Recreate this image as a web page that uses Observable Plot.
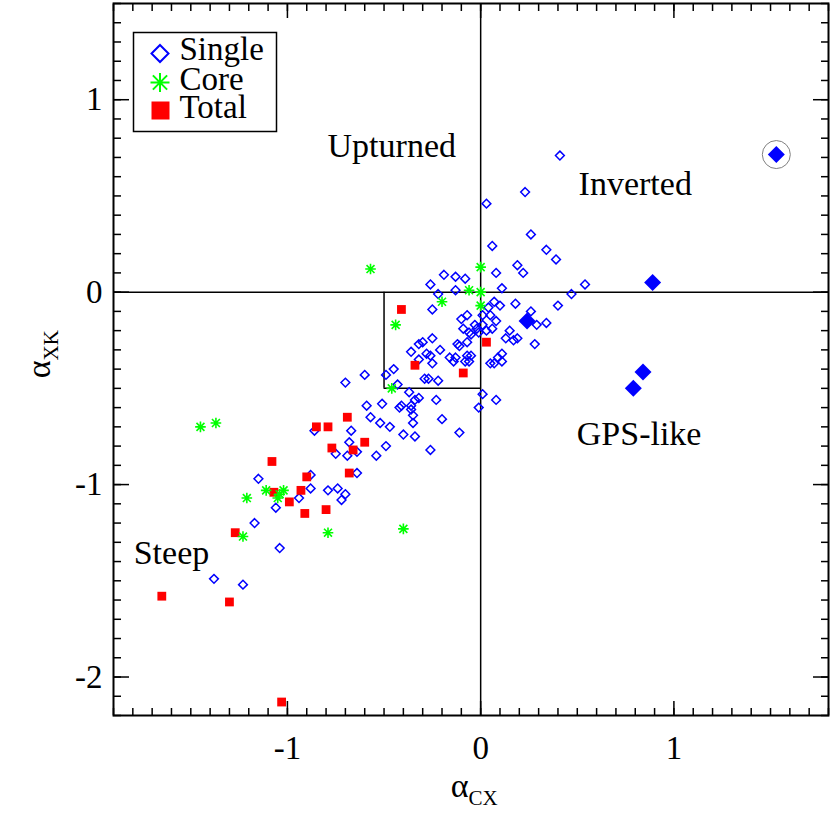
<!DOCTYPE html>
<html><head><meta charset="utf-8">
<script src="https://cdn.jsdelivr.net/npm/d3@7"></script>
<script src="https://cdn.jsdelivr.net/npm/@observablehq/plot@0.6"></script>
<style>body{margin:0;background:#fff}#chart{width:830px;height:830px}
#chart svg, #chart svg text{font-family:'Liberation Serif','Times New Roman',serif !important}</style>
</head><body><div id="chart"></div>
<script>
// ---- data (alpha_CX, alpha_XK) ----
const single = [[0.41,0.71],[0.23,0.52],[0.03,0.46],[0.26,0.30],[0.06,0.24],[0.34,0.22],[0.39,0.17],[0.19,0.14],[0.22,0.10],[0.08,0.10],[-0.19,0.09],[-0.13,0.08],[-0.08,0.07],[-0.26,0.04],[-0.13,0.01],[-0.22,-0.01],[0.11,0.02],[0.54,0.04],[0.47,-0.01],[0.40,-0.07],[0.18,-0.06],[0.07,-0.05],[0.10,-0.07],[0.04,-0.08],[-0.25,-0.09],[-0.07,-0.12],[-0.10,-0.14],[0.01,-0.12],[0.05,-0.12],[0.26,-0.10],[0.34,-0.16],[0.29,-0.17],[0.08,-0.15],[0.03,-0.20],[0.15,-0.20],[0.13,-0.24],[0.17,-0.25],[0.19,-0.24],[0.28,-0.27],[0.11,-0.32],[0.09,-0.34],[0.05,-0.37],[0.07,-0.37],[0.11,-0.36],[0.01,-0.53],[0.08,-0.56],[-0.01,-0.60],[-0.03,-0.17],[-0.02,-0.19],[0.01,-0.17],[-0.09,-0.19],[-0.06,-0.21],[-0.25,-0.24],[-0.30,-0.26],[-0.32,-0.27],[-0.36,-0.31],[-0.21,-0.30],[-0.28,-0.32],[-0.26,-0.33],[-0.25,-0.37],[-0.32,-0.35],[-0.11,-0.28],[-0.07,-0.26],[-0.16,-0.34],[-0.14,-0.36],[-0.13,-0.34],[-0.07,-0.33],[-0.05,-0.33],[-0.08,-0.36],[-0.06,-0.36],[-0.60,-0.43],[-0.49,-0.43],[-0.45,-0.40],[-0.29,-0.45],[-0.27,-0.45],[-0.22,-0.46],[-0.43,-0.48],[-0.37,-0.52],[-0.23,-0.56],[-0.59,-0.59],[-0.51,-0.58],[-0.42,-0.60],[-0.41,-0.59],[-0.36,-0.59],[-0.34,-0.56],[-0.32,-0.55],[-0.36,-0.61],[-0.57,-0.65],[-0.52,-0.68],[-0.47,-0.70],[-0.35,-0.64],[-0.35,-0.68],[-0.20,-0.66],[-0.40,-0.74],[-0.34,-0.75],[-0.11,-0.73],[-0.49,-0.80],[-0.26,-0.82],[-0.70,-0.47],[-0.67,-0.72],[-0.86,-0.72],[-0.68,-0.78],[-0.75,-0.84],[-0.69,-0.85],[-0.64,-0.83],[-0.54,-0.85],[-1.15,-0.97],[-0.88,-0.95],[-0.64,-0.94],[-0.88,-1.02],[-0.94,-1.07],[-0.79,-1.03],[-0.74,-1.02],[-0.70,-1.05],[-0.72,-1.08],[-1.06,-1.12],[-1.17,-1.20],[-1.04,-1.33],[-1.38,-1.49],[-1.23,-1.52],[-0.05,-0.22],[-0.12,-0.27],[-0.01,-0.21],[0.06,-0.19]];
const singleBig = [[1.53,0.715],[0.89,0.05],[0.24,-0.15],[0.84,-0.415],[0.79,-0.50]];
const circled = [[1.53,0.715]];
const core = [[-0.57,0.12],[0.00,0.13],[-0.06,0.01],[0.00,0.00],[-0.20,-0.05],[0.00,-0.07],[-0.44,-0.17],[-0.46,-0.50],[-1.45,-0.70],[-1.37,-0.68],[-1.21,-1.07],[-1.11,-1.03],[-1.02,-1.03],[-1.05,-1.07],[-1.04,-1.05],[-1.23,-1.27],[-0.79,-1.25],[-0.40,-1.23]];
const total = [[-0.41,-0.09],[-0.34,-0.38],[-0.09,-0.42],[0.03,-0.26],[-0.69,-0.65],[-0.85,-0.70],[-0.79,-0.70],[-0.60,-0.78],[-0.77,-0.81],[-0.66,-0.82],[-1.08,-0.88],[-0.68,-0.94],[-0.90,-0.96],[-0.93,-1.03],[-1.07,-1.04],[-0.99,-1.09],[-0.91,-1.15],[-0.80,-1.13],[-1.27,-1.25],[-1.65,-1.58],[-1.30,-1.61],[-1.03,-2.13]];
const regionNames = ["Upturned","Inverted","GPS-like","Steep"];
const regionX = [-0.46, 0.80, 0.82, -1.60];
const regionY = [0.76, 0.56, -0.74, -1.355];
const legendNames = ["Single","Core","Total"];
const xMajor = [-1,0,1];
const yMajor = [-2,-1,0,1];
const xMinor = d3.range(-19,19).map(i=>i/10);
const yMinor = d3.range(-22,16).map(i=>i/10);
const zeroLines = [0];
const boxEdge = [-0.5];   // the small box spans [-0.5,0] x [-0.5,0]

// ---- style ----
const BLUE="#0000ff", GREEN="#00ff00", RED="#ff0000";
const FONT="'Liberation Serif','Times New Roman',serif";
const rOf = s => Math.sqrt(s/Math.PI);
const diamondSym = {draw(c,s){const r=rOf(s);c.moveTo(0,-r);c.lineTo(r,0);c.lineTo(0,r);c.lineTo(-r,0);c.closePath();}};
const squareSym = {draw(c,s){const r=rOf(s);c.rect(-r,-r,2*r,2*r);}};
const asteriskSym = {draw(c,s){const r=rOf(s),d=r*0.75;c.moveTo(0,-r);c.lineTo(0,r);c.moveTo(-r,0);c.lineTo(r,0);c.moveTo(-d,-d);c.lineTo(d,d);c.moveTo(-d,d);c.lineTo(d,-d);}};

const tickOpts = {fill:"none", label:null, strokeWidth:1.5};
const legendRowDy = [45.5, 75.5, 103.5];
const chart = Plot.plot({
  width:830, height:830,
  marginLeft:113, marginRight:2, marginTop:3, marginBottom:115,
  style:{fontFamily:FONT, background:"#fff", color:"#000"},
  x:{domain:[-1.9,1.8]},
  y:{domain:[-2.2,1.5]},
  marks:[
    // inward ticks on all four sides
    Plot.axisX(xMinor,{anchor:"bottom", tickSize:-7, ...tickOpts}),
    Plot.axisX(xMajor,{anchor:"bottom", tickSize:-14, ...tickOpts}),
    Plot.axisX(xMinor,{anchor:"top", tickSize:-7, ...tickOpts}),
    Plot.axisX(xMajor,{anchor:"top", tickSize:-14, ...tickOpts}),
    Plot.axisY(yMinor,{anchor:"left", tickSize:-8, ...tickOpts}),
    Plot.axisY(yMajor,{anchor:"left", tickSize:-16, ...tickOpts}),
    Plot.axisY(yMinor,{anchor:"right", tickSize:-8, ...tickOpts}),
    Plot.axisY(yMajor,{anchor:"right", tickSize:-16, ...tickOpts}),
    Plot.axisX(xMajor,{anchor:"bottom", tickSize:0, tickPadding:20, fontSize:33, fontFamily:FONT, tickFormat:d=>String(d), label:null}),
    Plot.axisY(yMajor,{anchor:"left", tickSize:0, tickPadding:11, fontSize:33, fontFamily:FONT, tickFormat:d=>String(d), label:null}),
    // axis titles
    Plot.text(["α"],{frameAnchor:"bottom", dx:-2.5, dy:71, fontSize:34, fontFamily:FONT, textAnchor:"end", lineAnchor:"middle"}),
    Plot.text(["CX"],{frameAnchor:"bottom", dx:-2.5, dy:83, fontSize:21, fontFamily:FONT, textAnchor:"start", lineAnchor:"middle"}),
    Plot.text(["α"],{frameAnchor:"left", dx:-74, dy:1, rotate:-90, fontSize:34, fontFamily:FONT, textAnchor:"end", lineAnchor:"middle"}),
    Plot.text(["XK"],{frameAnchor:"left", dx:-62, dy:1, rotate:-90, fontSize:21, fontFamily:FONT, textAnchor:"start", lineAnchor:"middle"}),
    // reference lines
    Plot.ruleX(zeroLines,{strokeWidth:1.5}),
    Plot.ruleY(zeroLines,{strokeWidth:1.5}),
    Plot.ruleX(boxEdge,{y1:boxEdge[0], y2:zeroLines[0], strokeWidth:1.5}),
    Plot.ruleY(boxEdge,{x1:boxEdge[0], x2:zeroLines[0], strokeWidth:1.5}),
    Plot.frame({strokeWidth:2}),
    // region labels
    Plot.text(regionNames,{x:(d,i)=>regionX[i], y:(d,i)=>regionY[i], fontSize:34, fontFamily:FONT, textAnchor:"middle", lineAnchor:"middle"}),
    // data
    Plot.dot(single,{x:d=>d[0], y:d=>d[1], symbol:diamondSym, r:4.4, stroke:BLUE, fill:"none", strokeWidth:1.5}),
    Plot.dot(singleBig,{x:d=>d[0], y:d=>d[1], symbol:diamondSym, r:8.5, fill:BLUE, stroke:"none"}),
    Plot.dot(circled,{x:d=>d[0], y:d=>d[1], r:14, stroke:"#808080", fill:"none", strokeWidth:1}),
    Plot.dot(total,{x:d=>d[0], y:d=>d[1], symbol:squareSym, r:4.4, fill:RED, stroke:"none"}),
    Plot.dot(core,{x:d=>d[0], y:d=>d[1], symbol:asteriskSym, r:5.3, stroke:GREEN, fill:"none", strokeWidth:1.6}),
    // legend
    Plot.frame({insetLeft:20, insetTop:29, insetRight:552, insetBottom:584, strokeWidth:1.5}),
    Plot.dot([0],{frameAnchor:"top-left", dx:46.5, dy:50, symbol:diamondSym, r:8.5, stroke:BLUE, fill:"none", strokeWidth:2}),
    Plot.dot([0],{frameAnchor:"top-left", dx:46.5, dy:79, symbol:asteriskSym, r:9.5, stroke:GREEN, fill:"none", strokeWidth:2}),
    Plot.dot([0],{frameAnchor:"top-left", dx:47, dy:107, symbol:squareSym, r:9, fill:RED, stroke:"none"}),
    ...legendNames.map((name,i)=>Plot.text([name],{frameAnchor:"top-left", dx:66, dy:legendRowDy[i], fontSize:33, fontFamily:FONT, textAnchor:"start", lineAnchor:"middle"}))
  ]
});
document.getElementById("chart").appendChild(chart);
</script></body></html>
